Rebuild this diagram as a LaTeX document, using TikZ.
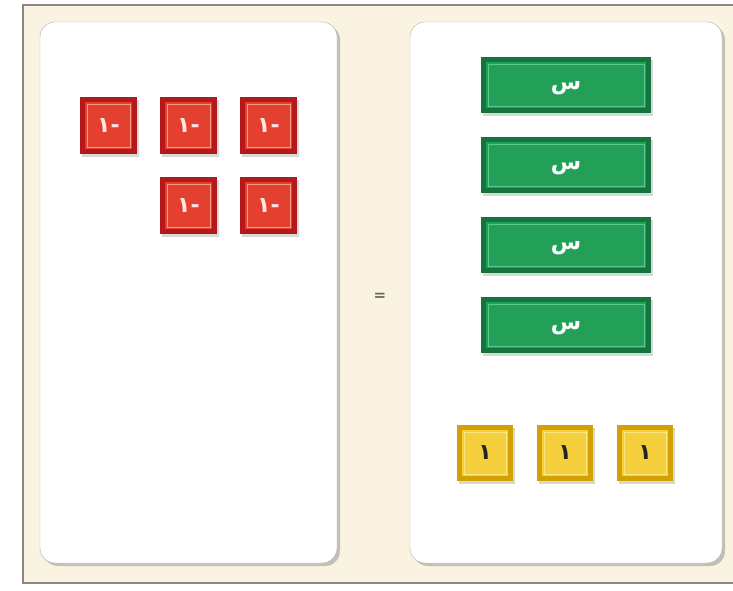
\documentclass[tikz,border=0pt]{standalone}
\usepackage{fontspec}
\usetikzlibrary{calc,shadows}
\newfontfamily\arabicfont[Script=Arabic]{DejaVu Sans}
\TeXXeTstate=1
\definecolor{FrameFill}{HTML}{FBF3E1}
\definecolor{FrameLine}{HTML}{8A8680}
\definecolor{RedDark}{HTML}{B3181B}
\definecolor{RedMid}{HTML}{E3402F}
\definecolor{RedLine}{HTML}{F59A82}
\definecolor{GreenDark}{HTML}{137440}
\definecolor{GreenMid}{HTML}{22A058}
\definecolor{GreenLine}{HTML}{5CC98C}
\definecolor{GoldDark}{HTML}{D3A200}
\definecolor{GoldMid}{HTML}{F5CF3C}
\definecolor{GoldLine}{HTML}{FCE585}
\tikzset{
bevel/.style 2 args={path picture={
  \fill[#1] ($(path picture bounding box.south west)+(5pt,5pt)$) rectangle ($(path picture bounding box.north east)+(-5pt,-5pt)$);
  \draw[#2, line width=1pt] ($(path picture bounding box.south west)+(7pt,7pt)$) rectangle ($(path picture bounding box.north east)+(-7pt,-7pt)$);}},
tilebase/.style={inner sep=0pt, drop shadow={shadow xshift=2pt, shadow yshift=-3pt, fill=black!25, opacity=0.6}},
negtile/.style={tilebase, fill=RedDark, bevel={RedMid}{RedLine}, minimum width=57pt, minimum height=57pt, text=white!90!red, font=\arabicfont\bfseries\fontsize{22}{24}\selectfont},
vartile/.style={tilebase, fill=GreenDark, bevel={GreenMid}{GreenLine}, minimum width=170pt, minimum height=56pt, text=white, text height=10pt, text depth=2pt, font=\arabicfont\bfseries\fontsize{22}{24}\selectfont},
onetile/.style={tilebase, fill=GoldDark, bevel={GoldMid}{GoldLine}, minimum width=56pt, minimum height=56pt, text=black!85, font=\arabicfont\bfseries\fontsize{22}{24}\selectfont},
matpanel/.style={draw=black!30, fill=white, rounded corners=15pt, minimum height=541pt, drop shadow={shadow xshift=3pt, shadow yshift=-3pt, fill=black!45}}
}
\begin{document}
\begin{tikzpicture}[x=1pt, y=-1pt]
  \useasboundingbox[fill=white] (0,0) rectangle (733,590);
  \node[draw=FrameLine, line width=2pt, fill=FrameFill, minimum width=712pt, minimum height=578pt] (frame) at (379,294) {};
  % two mats
  \node[matpanel, minimum width=297pt] (leftmat) at (188.5,292.5) {};
  \node[matpanel, minimum width=312pt] (rightmat) at (566,292.5) {};
  \node[text=black!60, font=\arabicfont\bfseries\fontsize{15}{17}\selectfont] (eq) at (380,297) {=};
  % negative unit tiles
  \node[negtile] (neg1) at (108.5,125.5) {\beginR -١\endR};
  \node[negtile] (neg2) at (188.5,125.5) {\beginR -١\endR};
  \node[negtile] (neg3) at (268.5,125.5) {\beginR -١\endR};
  \node[negtile] (neg4) at (188.5,205.5) {\beginR -١\endR};
  \node[negtile] (neg5) at (268.5,205.5) {\beginR -١\endR};
  % x tiles
  \node[vartile] (var1) at (566,85) {\beginR س\endR};
  \node[vartile] (var2) at (566,165) {\beginR س\endR};
  \node[vartile] (var3) at (566,245) {\beginR س\endR};
  \node[vartile] (var4) at (566,325) {\beginR س\endR};
  % unit tiles
  \node[onetile] (one1) at (485,453) {\beginR ١\endR};
  \node[onetile] (one2) at (565,453) {\beginR ١\endR};
  \node[onetile] (one3) at (645,453) {\beginR ١\endR};
\end{tikzpicture}
\end{document}
